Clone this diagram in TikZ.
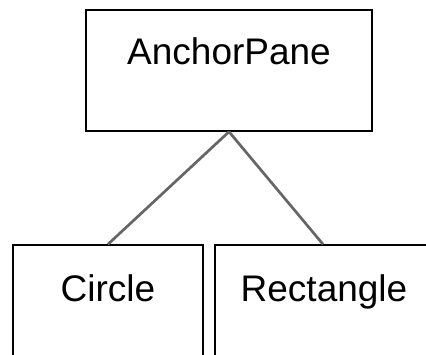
\documentclass[tikz,border=0pt]{standalone}
\usepackage{fontspec}
\setmainfont{Liberation Sans}
\begin{document}
\begin{tikzpicture}[x=1pt,y=-1pt,
  box/.style={draw=black,line width=1.5pt,fill=white,inner sep=0pt},
  caption/.style={font=\fontsize{37}{40}\selectfont,anchor=base,inner sep=0pt},
  link/.style={draw=black!60,line width=2.7pt}]
  \useasboundingbox (0,0) rectangle (426,355);
  \clip (0,0) rectangle (426,355);
  % parent pane
  \node[box,minimum width=286pt,minimum height=121pt] (ap) at (229,70.5) {};
  % children
  \node[box,minimum width=190pt,minimum height=140pt] (circ) at (108,315) {};
  \node[box,minimum width=216pt,minimum height=140pt] (rect) at (323,315) {};
  % captions
  \node[caption] (apt) at (229,65) {AnchorPane};
  \node[caption] (circt) at (108,301.7) {Circle};
  \node[caption] (rectt) at (324,301.7) {Rectangle};
  % tree links
  \draw[link] (ap.south) -- (circ.north);
  \draw[link] (ap.south) -- (rect.north);
\end{tikzpicture}
\end{document}
